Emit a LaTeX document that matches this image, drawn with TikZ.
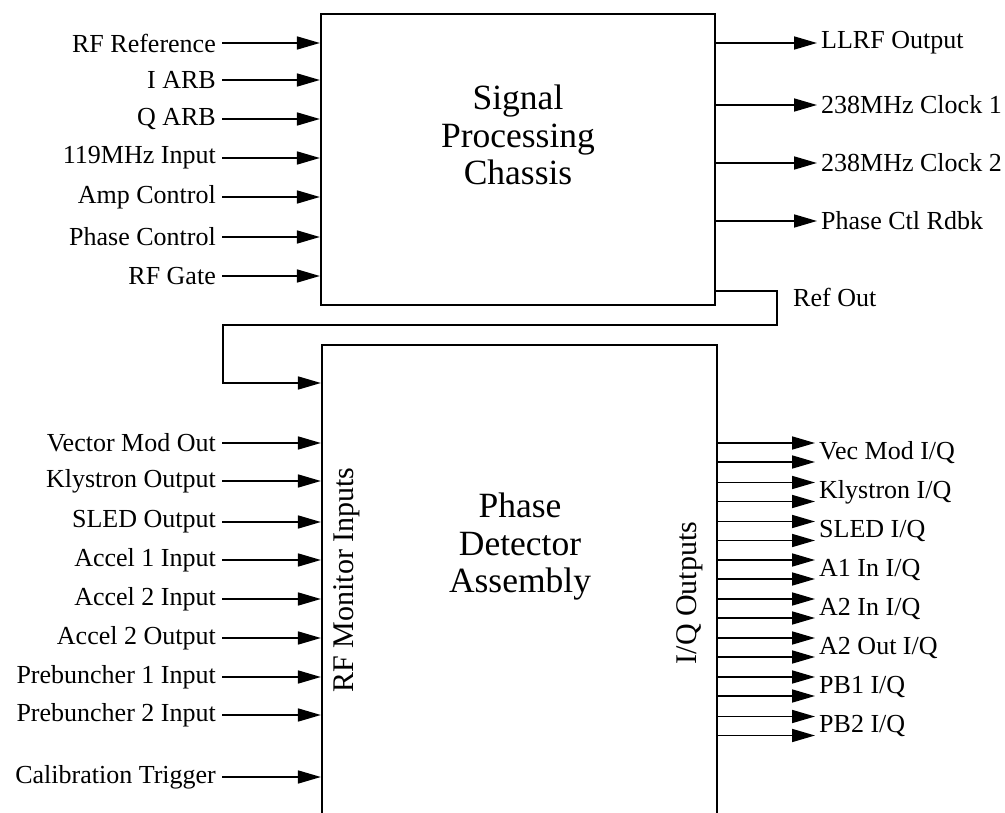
\documentclass[tikz,border=0pt]{standalone}
\usepackage{fontspec}
\setmainfont{Liberation Serif}
\usetikzlibrary{arrows.meta}
\begin{document}
\begin{tikzpicture}[x=1pt,y=-1pt,
  boxline/.style={draw,line width=2.2pt},
  arr/.style={line width=1.7pt,-{Triangle[length=23pt,width=13pt]}},
  inlab/.style={anchor=east,inner xsep=6pt,inner ysep=0pt,font=\fontsize{26}{30}\selectfont},
  outlab/.style={anchor=west,inner xsep=4pt,inner ysep=0pt,font=\fontsize{26}{30}\selectfont},
  title/.style={align=center,font=\fontsize{35.5}{37.5}\selectfont},
  side/.style={rotate=90,font=\fontsize{30}{32}\selectfont}]
\clip (0,0) rectangle (1005,813);
\fill[white] (0,0) rectangle (1005,813);
% boxes
\node[boxline,minimum width=394pt,minimum height=291pt,inner sep=0pt] (spc) at (518,159.5) {};
\node[boxline,minimum width=395pt,minimum height=505pt,inner sep=0pt] (pda) at (519.5,597.5) {};
\node[title] (t1) at (518,135) {Signal\\Processing\\Chassis};
\node[title] (t2) at (520,547) {Phase\\Detector\\Assembly};
\node[side] (rfm) at (347,580) {RF Monitor Inputs};
\node[side] (iqo) at (690,593) {I/Q Outputs};
% top inputs
\foreach \n/\y/\t in {a1/43/RF Reference,a2/80/I ARB,a3/119/Q ARB,a4/158/119MHz Input,a5/197/Amp Control,a6/237/Phase Control,a7/276/RF Gate}{
  \node[inlab] (\n) at (222,\y) {\t};
  \draw[arr] (\n.east) -- (\n.east -| spc.west);
}
% top outputs
\foreach \n/\y/\t in {b1/43/LLRF Output,b2/105/238MHz Clock 1,b3/163/238MHz Clock 2,b4/221/Phase Ctl Rdbk}{
  \node[outlab] (\n) at (817,\y) {\t};
  \draw[arr] (\n.west -| spc.east) -- (\n.west);
}
% ref out loop
\node[outlab] (ro) at (789,297) {Ref Out};
\coordinate (lr) at (777,325);
\coordinate (ll) at (223,383);
\draw[arr] ([yshift=15pt]spc.south east) -| (lr) -| (ll) -- (ll -| pda.west);
% bottom inputs
\foreach \n/\y/\t in {c1/443/Vector Mod Out,c2/481/Klystron Output,c3/522/SLED Output,c4/560/Accel 1 Input,c5/599/Accel 2 Input,c6/638/Accel 2 Output,c7/677/Prebuncher 1 Input,c8/715/Prebuncher 2 Input,c9/777/Calibration Trigger}{
  \node[inlab] (\n) at (222,\y) {\t};
  \draw[arr] (\n.east) -- (\n.east -| pda.west);
}
% bottom outputs
\foreach \n/\y/\t in {d1/452.5/{Vec Mod I/Q},d2/492/{Klystron I/Q},d3/531/{SLED I/Q},d4/569.5/{A1 In I/Q},d5/608.5/{A2 In I/Q},d6/647.5/{A2 Out I/Q},d7/686.5/{PB1 I/Q},d8/726/{PB2 I/Q}}{
  \node[outlab] (\n) at (815,\y) {\t};
  \draw[arr] ([yshift=9.5pt]\n.west -| pda.east) -- ([yshift=9.5pt]\n.west);
  \draw[arr] ([yshift=-9.5pt]\n.west -| pda.east) -- ([yshift=-9.5pt]\n.west);
}
\end{tikzpicture}
\end{document}
